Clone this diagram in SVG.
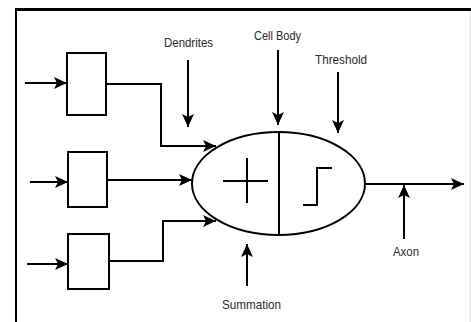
<svg xmlns="http://www.w3.org/2000/svg" width="471" height="322" viewBox="0 0 471 322">
<defs>
<style>
.ln{fill:none;stroke:#000;stroke-width:2}
.bx{fill:#fff;stroke:#000;stroke-width:2}
.lbl{font-family:"Liberation Sans",Arial,sans-serif;font-size:13.5px;fill:#2a2a2a}
</style>
<marker id="ah" markerUnits="userSpaceOnUse" markerWidth="14" markerHeight="14" viewBox="0 0 14 14" refX="13" refY="7" orient="auto">
<path d="M0,1 L13,7 L0,13 L3,7 Z" fill="#000"/>
</marker>
</defs>
<rect width="471" height="322" fill="#fff"/>
<g id="frame">
<line x1="15" y1="9.5" x2="471" y2="9.5" stroke="#000" stroke-width="3"/>
<line x1="16" y1="8" x2="16" y2="322" stroke="#000" stroke-width="2"/>
<line x1="470" y1="11" x2="470" y2="322" stroke="#ddd" stroke-width="1"/>
</g>
<g id="connectors">
<line class="ln" x1="25" y1="83" x2="67" y2="83" marker-end="url(#ah)"/>
<line class="ln" x1="30" y1="182" x2="68" y2="182" marker-end="url(#ah)"/>
<line class="ln" x1="27" y1="264" x2="68" y2="264" marker-end="url(#ah)"/>
<polyline class="ln" points="106,84 161,84 161,146 216,146" marker-end="url(#ah)"/>
<line class="ln" x1="108" y1="180" x2="192" y2="180" marker-end="url(#ah)"/>
<polyline class="ln" points="109,261 163,261 163,221 216,221" marker-end="url(#ah)"/>
<line class="ln" x1="365" y1="184" x2="464" y2="184" marker-end="url(#ah)"/>
<line class="ln" x1="188" y1="60" x2="188" y2="127" marker-end="url(#ah)"/>
<line class="ln" x1="278" y1="50" x2="278" y2="125" marker-end="url(#ah)"/>
<line class="ln" x1="338" y1="72" x2="338" y2="133" marker-end="url(#ah)"/>
<line class="ln" x1="247" y1="286" x2="247" y2="244" marker-end="url(#ah)"/>
<line class="ln" x1="404" y1="239" x2="404" y2="185" marker-end="url(#ah)"/>
</g>
<g id="box1"><rect class="bx" x="67" y="53" width="39" height="62"/></g>
<g id="box2"><rect class="bx" x="68" y="152" width="39" height="55"/></g>
<g id="box3"><rect class="bx" x="68" y="234" width="41" height="55"/></g>
<g id="cellbody">
<ellipse cx="278.5" cy="183.5" rx="86.5" ry="51.5" fill="#fff" stroke="#000" stroke-width="2"/>
<line class="ln" x1="279" y1="132" x2="279" y2="235"/>
<line class="ln" x1="223" y1="181" x2="268" y2="181"/>
<line class="ln" x1="247" y1="158" x2="247" y2="203"/>
<polyline class="ln" points="303,205 317,205 317,168 332,168"/>
</g>
<g id="labels">
<text class="lbl" x="164" y="47" textLength="49" lengthAdjust="spacingAndGlyphs">Dendrites</text>
<text class="lbl" x="254" y="40" textLength="47" lengthAdjust="spacingAndGlyphs">Cell Body</text>
<text class="lbl" x="315" y="64" textLength="52" lengthAdjust="spacingAndGlyphs">Threshold</text>
<text class="lbl" x="222" y="309" textLength="59" lengthAdjust="spacingAndGlyphs">Summation</text>
<text class="lbl" x="393" y="256" textLength="26" lengthAdjust="spacingAndGlyphs">Axon</text>
</g>
</svg>
